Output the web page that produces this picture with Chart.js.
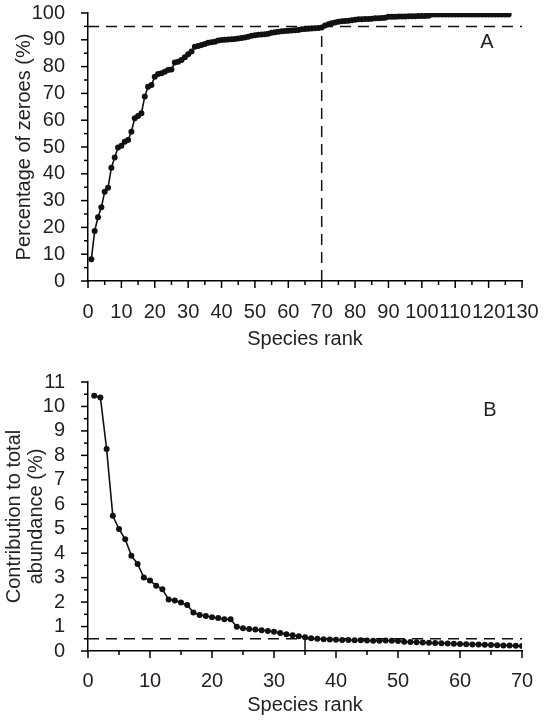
<!DOCTYPE html>
<html>
<head>
<meta charset="utf-8">
<script src="https://cdn.jsdelivr.net/npm/chart.js@4/dist/chart.umd.min.js"></script>
<style>
  html, body { margin: 0; padding: 0; background: #fff; }
  #wrap { position: relative; width: 550px; height: 721px; }
  canvas { position: absolute; left: 0; }
  #cA { top: 0; }
  #cB { top: 360px; }
</style>
</head>
<body>
<div id="wrap">
  <canvas id="cA" width="550" height="360"></canvas>
  <canvas id="cB" width="550" height="361"></canvas>
</div>
<script>
// ---- Data: panel A (percentage of zeroes by species rank, rank = index + 1)
const zeroesPct = [
  8.1, 18.7, 23.8, 27.5, 33.3, 34.8, 42.3, 46.1, 49.8, 50.5,
  52.0, 52.6, 55.7, 60.7, 61.6, 62.6, 68.8, 72.5, 73.1, 76.2,
  77.2, 77.5, 78.1, 78.7, 78.9, 81.5, 81.8, 82.5, 83.5, 84.6,
  85.6, 87.4, 87.7, 88.1, 88.4, 88.9, 89.1, 89.3, 89.7, 89.9,
  90.0, 90.1, 90.2, 90.3, 90.5, 90.7, 90.9, 91.1, 91.5, 91.7,
  91.9, 92.0, 92.1, 92.3, 92.6, 92.8, 93.0, 93.2, 93.3, 93.4,
  93.5, 93.6, 93.7, 93.9, 94.0, 94.1, 94.2, 94.3, 94.4, 94.6,
  95.3, 95.8, 96.2, 96.5, 96.7, 96.9, 97.0, 97.1, 97.3, 97.5,
  97.7, 97.7, 97.8, 97.8, 97.9, 98.0, 98.0, 98.1, 98.2, 98.6,
  98.6, 98.6, 98.7, 98.7, 98.7, 98.8, 98.8, 98.8, 98.9, 98.9,
  98.9, 99.0, 99.4, 99.4, 99.4, 99.4, 99.4, 99.4, 99.4, 99.4,
  99.4, 99.4, 99.4, 99.4, 99.4, 99.4, 99.4, 99.4, 99.4, 99.4,
  99.4, 99.4, 99.4, 99.4, 99.4, 99.4
];
// reference lines for panel A
const thresholdA = 95;     // horizontal dashed line (%)
const cutRankA = 70;       // vertical dashed line (rank)
const xRangeA = [0, 130];
const yRangeA = [0, 100];

// ---- Data: panel B (contribution to total abundance by species rank)
const contribPct = [
  10.44, 10.37, 8.26, 5.53, 4.99, 4.57, 3.90, 3.56, 3.01, 2.88,
  2.67, 2.52, 2.11, 2.06, 1.98, 1.88, 1.57, 1.47, 1.43, 1.38,
  1.35, 1.30, 1.30, 0.99, 0.93, 0.90, 0.88, 0.85, 0.82, 0.79,
  0.74, 0.69, 0.64, 0.60, 0.56, 0.52, 0.50, 0.48, 0.47, 0.46,
  0.45, 0.45, 0.44, 0.44, 0.43, 0.42, 0.42, 0.43, 0.42, 0.41,
  0.38, 0.37, 0.36, 0.35, 0.34, 0.33, 0.32, 0.31, 0.30, 0.29,
  0.28, 0.27, 0.27, 0.26, 0.25, 0.24, 0.23, 0.22, 0.21, 0.20
];
const thresholdB = 0.5;
const cutRankB = 35;
const xRangeB = [0, 70];
const yRangeB = [0, 11];

const FONT = 'Liberation Sans, Arial, sans-serif';
const TXT = '#231f20';
const FS = 20;

const toPoints = arr => arr.map((v, i) => ({ x: i + 1, y: v }));

const manualTicks = {
  id: 'manualTicks',
  afterDraw(chart, args, o) {
    const ctx = chart.ctx;
    const ca = chart.chartArea;
    const xs = chart.scales.x, ys = chart.scales.y;
    ctx.save();
    ctx.strokeStyle = '#000';
    ctx.lineWidth = 1.5;
    const isMajor = (v, m) => Math.abs(v / m - Math.round(v / m)) < 1e-6;
    for (let v = xs.min; v <= xs.max + 1e-9; v += o.xMinor) {
      const px = xs.getPixelForValue(v);
      const len = isMajor(v, o.xMajor) ? 7 : 4;
      ctx.beginPath(); ctx.moveTo(px, ca.bottom); ctx.lineTo(px, ca.bottom + len); ctx.stroke();
    }
    for (let v = ys.min; v <= ys.max + 1e-9; v += o.yMinor) {
      const py = ys.getPixelForValue(v);
      const len = isMajor(v, o.yMajor) ? 7 : 4;
      ctx.beginPath(); ctx.moveTo(ca.left, py); ctx.lineTo(ca.left - len, py); ctx.stroke();
    }
    ctx.fillStyle = TXT;
    ctx.font = FS + 'px ' + FONT;
    ctx.textAlign = 'center';
    ctx.textBaseline = 'middle';
    ctx.fillText(o.letter, ca.right - o.letterDx, ca.top + o.letterDy);
    ctx.restore();
  }
};

function makeChart(id, cfg) {
  return new Chart(document.getElementById(id), {
    type: 'scatter',
    data: {
      datasets: [
        {
          data: toPoints(cfg.values),
          showLine: true,
          borderColor: '#111',
          borderWidth: 1.6,
          pointRadius: 3,
          pointBackgroundColor: '#111',
          pointBorderWidth: 0,
          order: 1
        },
        {
          data: cfg.hLine,
          showLine: true,
          borderColor: '#111',
          borderWidth: 1.5,
          borderDash: [11, 7],
          pointRadius: 0,
          order: 2
        },
        {
          data: cfg.vLine,
          showLine: true,
          borderColor: '#111',
          borderWidth: 1.5,
          borderDash: [11, 7],
          pointRadius: 0,
          order: 2
        }
      ]
    },
    options: {
      responsive: false,
      animation: false,
      events: [],
      layout: { padding: { top: cfg.top, right: 28, left: 0, bottom: 0 } },
      plugins: {
        legend: { display: false },
        tooltip: { enabled: false },
        manualTicks: cfg.tickOpts
      },
      scales: {
        x: {
          type: 'linear',
          min: cfg.xRange[0], max: cfg.xRange[1],
          grid: { display: true, drawOnChartArea: false, drawTicks: true, tickLength: cfg.xTickGap, tickColor: 'rgba(0,0,0,0)' },
          border: { display: true, color: '#000', width: 1.5 },
          ticks: {
            stepSize: 10, autoSkip: false, maxRotation: 0, minRotation: 0,
            color: TXT, font: { family: FONT, size: FS }, padding: 0
          },
          title: {
            display: true, text: 'Species rank', color: TXT,
            font: { family: FONT, size: FS },
            padding: { top: 0, bottom: cfg.xTitlePad }
          },
          afterFit: s => { s.height = cfg.xAxisH; }
        },
        y: {
          type: 'linear',
          min: cfg.yRange[0], max: cfg.yRange[1],
          grid: { display: true, drawOnChartArea: false, drawTicks: true, tickLength: 23, tickColor: 'rgba(0,0,0,0)' },
          border: { display: true, color: '#000', width: 1.5 },
          ticks: {
            stepSize: cfg.yStep, autoSkip: false,
            color: TXT, font: { family: FONT, size: FS }, padding: 0
          },
          title: {
            display: true, text: cfg.yTitle, color: TXT,
            font: { family: FONT, size: FS, lineHeight: 1.1 },
            padding: { top: cfg.yTitlePad, bottom: 0 }
          },
          afterFit: s => { s.width = 88; }
        }
      }
    },
    plugins: [manualTicks]
  });
}

makeChart('cA', {
  values: zeroesPct,
  hLine: [{ x: xRangeA[0], y: thresholdA }, { x: xRangeA[1], y: thresholdA }],
  vLine: [{ x: cutRankA, y: 0 }, { x: cutRankA, y: thresholdA }],
  xRange: xRangeA, yRange: yRangeA, yStep: 10,
  top: 13, xAxisH: 79, xTickGap: 19, xTitlePad: 9,
  yTitle: 'Percentage of zeroes (%)', yTitlePad: 13,
  tickOpts: { xMinor: 5, xMajor: 10, yMinor: 5, yMajor: 10, letter: 'A', letterDx: 35, letterDy: 29 }
});

makeChart('cB', {
  values: contribPct,
  hLine: [{ x: xRangeB[0], y: thresholdB }, { x: xRangeB[1], y: thresholdB }],
  vLine: [{ x: cutRankB, y: 0 }, { x: cutRankB, y: thresholdB }],
  xRange: xRangeB, yRange: yRangeB, yStep: 1,
  top: 22, xAxisH: 70, xTickGap: 18, xTitlePad: 4,
  yTitle: ['Contribution to total', 'abundance (%)'], yTitlePad: 3,
  tickOpts: { xMinor: 5, xMajor: 10, yMinor: 0.5, yMajor: 1, letter: 'B', letterDx: 32, letterDy: 28 }
});
</script>
</body>
</html>
